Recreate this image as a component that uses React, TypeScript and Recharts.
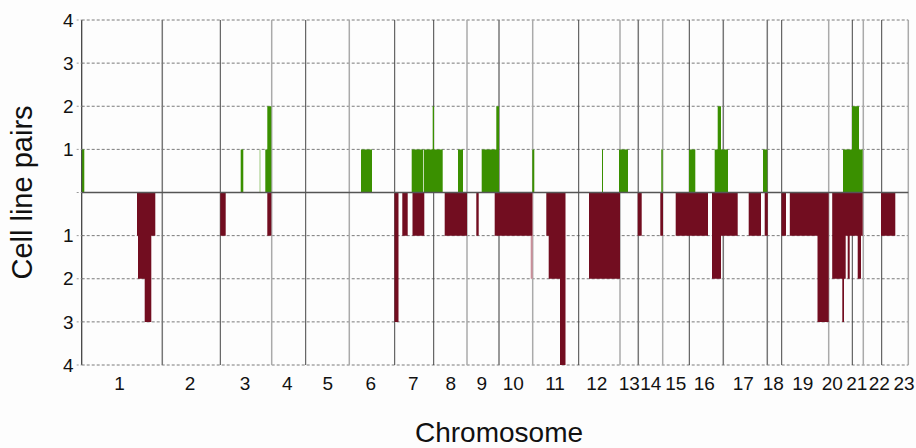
import React from 'react';
import { ComposedChart, Area, XAxis, YAxis, CartesianGrid, ReferenceLine } from 'recharts';

// chromosome borders along the genome axis (cumulative position units)
const chromosomeEdges = [
  0, 80.6, 138.6, 190, 224, 267.6, 313, 352, 385.3, 417.3, 451, 497,
  538.3, 556.6, 581, 607.6, 641.6, 685.6, 700, 747, 770.6, 781.6, 800, 826.6,
];

const chromosomeLabels = [
  '1', '2', '3', '4', '5', '6', '7', '8', '9', '10', '11', '12',
  '13', '14', '15', '16', '17', '18', '19', '20', '21', '22', '23',
];

// where each chromosome number is printed under the axis
const labelPositions = [
  37.8, 108.3, 163.3, 205.6, 246, 289, 331.6, 369, 400, 431.6, 473.3, 515,
  547.6, 569, 594, 622.6, 661.6, 691.6, 721, 750.6, 775, 797.6, 822.3,
];

// gains: [position, number of cell line pairs] breakpoints
const gainSteps: [number, number][] = [
  [0, 1], [2.6, 0], [159, 1], [161.6, 0], [183.6, 1], [185.6, 2], [189.6, 0],
  [279.3, 1], [290.3, 0], [330, 1], [341.6, 0], [342.3, 1], [351, 2], [352.3, 1], [361, 0],
  [376.3, 1], [381.3, 0], [400, 1], [414.6, 2], [417.3, 0], [450.6, 1], [452.6, 0],
  [520.3, 1], [521.3, 0], [537.3, 1], [546.3, 0], [579.6, 1], [581, 0],
  [607.3, 1], [613.6, 0], [633, 1], [636, 2], [639.3, 1], [646.3, 0],
  [681.3, 1], [685.6, 0], [761.3, 1], [770.3, 2], [777.3, 1], [781, 0],
];

// losses: [position, number of cell line pairs] breakpoints
const lossSteps: [number, number][] = [
  [55.3, 1], [56.3, 2], [63, 3], [69.6, 1], [73.6, 0],
  [138.6, 1], [144, 0], [185.6, 1], [189.6, 0],
  [312.8, 3], [316.8, 0], [320.6, 1], [326, 0], [330.8, 1], [342.6, 0],
  [363, 1], [385.3, 0], [394.6, 1], [397, 0], [413, 1], [450.6, 0],
  [464.6, 1], [467, 2], [478.3, 4], [483.8, 0], [507.3, 2], [538.3, 0],
  [556, 1], [560, 0], [578.6, 1], [581.3, 0], [594, 1], [626.3, 0],
  [630.3, 2], [639.3, 1], [656, 0], [667, 1], [679.3, 0], [683, 1], [686, 0],
  [699.8, 1], [704.3, 0], [708.1, 1], [735.8, 3], [747, 0],
  [750.5, 2], [760.6, 3], [762.3, 2], [764, 1], [766, 2], [768, 1], [776, 2], [779.3, 1], [781, 0],
  [799.3, 1], [813.6, 0],
];

// faint single-clone calls
const faintGainSteps: [number, number][] = [[177.6, 1], [179, 0]];
const faintLossSteps: [number, number][] = [[449, 2], [451, 0]];

const yTicks = [-4, -3, -2, -1, 0, 1, 2, 3, 4];

const darkEdges = new Set([0, 2, 4, 6, 7, 11, 15, 18, 20, 22]);
const midEdges = new Set([1, 9, 13, 16, 17]);

const levelAt = (steps: [number, number][], pos: number) => {
  let v = 0;
  for (const [x, n] of steps) {
    if (x <= pos) v = n;
    else break;
  }
  return v;
};

const allPositions = Array.from(
  new Set([
    chromosomeEdges[0],
    chromosomeEdges[chromosomeEdges.length - 1],
    ...gainSteps.map((s) => s[0]),
    ...lossSteps.map((s) => s[0]),
    ...faintGainSteps.map((s) => s[0]),
    ...faintLossSteps.map((s) => s[0]),
  ])
).sort((a, b) => a - b);

const data = allPositions.map((pos) => ({
  pos,
  gain: levelAt(gainSteps, pos),
  loss: -levelAt(lossSteps, pos),
  faintGain: levelAt(faintGainSteps, pos),
  faintLoss: -levelAt(faintLossSteps, pos),
}));

const FONT = '"Liberation Sans", Arial, sans-serif';

export default function App() {
  return (
    <div style={{ position: 'absolute', left: 0, top: 0, width: 916, height: 448, background: '#fdfdfd' }}>
      <ComposedChart
        width={916}
        height={448}
        data={data}
        margin={{ top: 20, right: 7.7, bottom: 0, left: 0 }}
        style={{ fontFamily: FONT }}
      >
        <CartesianGrid vertical={false} stroke="#7a7a7a" strokeDasharray="3 2" />

        {chromosomeEdges.map((x, i) => (
          <ReferenceLine
            key={`edge-${i}`}
            x={x}
            stroke={darkEdges.has(i) ? '#444' : midEdges.has(i) ? '#777' : '#aaa'}
            strokeWidth={darkEdges.has(i) ? 1 : 1.5}
            zIndex={50}
          />
        ))}

        <Area
          dataKey="faintGain"
          type="stepAfter"
          stroke="none"
          fill="#b9d8a2"
          fillOpacity={1}
          baseValue={0}
          dot={false}
          activeDot={false}
          isAnimationActive={false}
        />
        <Area
          dataKey="faintLoss"
          type="stepAfter"
          stroke="none"
          fill="#c98f9a"
          fillOpacity={1}
          baseValue={0}
          dot={false}
          activeDot={false}
          isAnimationActive={false}
        />
        <Area
          dataKey="gain"
          type="stepAfter"
          stroke="none"
          fill="#3a9000"
          fillOpacity={1}
          baseValue={0}
          dot={false}
          activeDot={false}
          isAnimationActive={false}
        />
        <Area
          dataKey="loss"
          type="stepAfter"
          stroke="none"
          fill="#720d20"
          fillOpacity={1}
          baseValue={0}
          dot={false}
          activeDot={false}
          isAnimationActive={false}
        />

        <ReferenceLine y={0} stroke="#555" strokeWidth={1.5} />

        <XAxis
          dataKey="pos"
          type="number"
          domain={[0, 826.6]}
          allowDataOverflow
          ticks={labelPositions}
          interval={0}
          tickFormatter={(v: number) => chromosomeLabels[labelPositions.indexOf(v)] ?? ''}
          axisLine={false}
          tickLine={false}
          tickSize={0}
          tickMargin={12}
          height={83}
          tick={{ fill: '#111', fontSize: 19, fontFamily: FONT }}
          label={{
            value: 'Chromosome',
            position: 'insideBottom',
            offset: 6,
            dx: 4,
            fill: '#111',
            fontSize: 28,
            fontFamily: FONT,
          }}
        />
        <YAxis
          type="number"
          domain={[-4, 4]}
          ticks={yTicks}
          interval={0}
          width={81.7}
          tickFormatter={(v: number) => (v === 0 ? '' : String(Math.abs(v)))}
          axisLine={{ stroke: '#444' }}
          tickLine={{ stroke: '#999', strokeDasharray: '2 2' }}
          tickSize={5}
          tickMargin={3}
          tick={{ fill: '#111', fontSize: 19, fontFamily: FONT }}
          label={{
            value: 'Cell line pairs',
            angle: -90,
            position: 'insideLeft',
            offset: 22,
            fill: '#111',
            fontSize: 29,
            fontFamily: FONT,
            style: { textAnchor: 'middle' },
          }}
        />
      </ComposedChart>
    </div>
  );
}
